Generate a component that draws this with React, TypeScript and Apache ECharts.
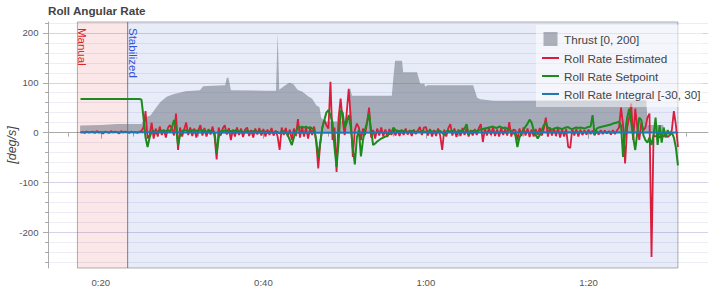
import React, { useEffect, useRef } from 'react';
import * as echarts from 'echarts';

// ---- data ----
const TITLE = 'Roll Angular Rate';
const Y_NAME = '[deg/s]';

// sampling grid of the rate signals (seconds)
const T0 = 17.5;
const DT = 0.25;

// Roll Rate Estimated [deg/s], one value per DT starting at T0
const ESTIMATED = [
  0, 1,
  -1, 2, 0, 1, // 18
  2, -1, 3, 0, // 19
  1, -2, 2, 1, // 20
  -1, 3, 0, 2, // 21
  1, -2, 3, 0, // 22
  2, 1, -1, 2, // 23
  0, 1, -1, 2, // 24
  3, 10, 43, -12, // 25
  -5, 20, -12, 8, // 26
  -8, 12, -5, 6, // 27
  -10, 9, 15, 7, // 28
  -6, 38, -35, 10, // 29
  -8, 6, 20, -5, // 30
  10, -7, 8, -10, // 31
  5, 15, -6, 9, // 32
  -8, 7, -4, 12, // 33
  -9, -54, 10, -6, // 34
  8, 15, -4, 9, // 35
  -15, 6, -8, 10, // 36
  -5, 8, -9, 6, // 37
  10, -7, 5, -10, // 38
  8, -4, 9, -6, // 39
  7, -8, 6, -5, // 40
  9, -6, 4, -8, // 41
  -35, 10, -5, 9, // 42
  -8, 6, -15, 8, // 43
  -6, 27, -10, 12, // 44
  -8, 10, -12, 9, // 45
  -5, 12, -20, -72, // 46
  -20, 10, 25, 15, // 47
  8, 102, -15, 10, // 48
  -79, 30, 68, 25, // 49
  -5, 40, 88, 30, // 50
  -49, 5, 18, 10, // 51
  -15, 8, -5, 20, // 52
  50, -10, 5, -12, // 53
  8, -6, 10, -8, // 54
  6, -9, 7, -5, // 55
  8, -6, 5, -7, // 56
  6, -5, 8, -4, // 57
  5, -7, 6, -3, // 58
  4, 11, -5, 10, // 59
  11, -6, 7, -8, // 60
  5, -7, 8, -6, // 61
  -35, 6, -8, 9, // 62
  17, -6, 8, -9, // 63
  6, -7, 9, -5, // 64
  8, -8, 5, -6, // 65
  7, -5, 9, 17, // 66
  -19, 8, -6, 9, // 67
  -5, 10, -7, 6, // 68
  -8, 9, -5, 7, // 69
  -6, 21, -8, 6, // 70
  5, -15, 8, -7, // 71
  10, -6, 8, -9, // 72
  6, -8, 7, -5, // 73
  9, -6, 8, 30, // 74
  -8, 10, -6, 8, // 75
  -7, 9, -10, 6, // 76
  -8, 7, -29, -31, // 77
  8, -6, 7, -8, // 78
  6, -5, 5, -4, // 79
  6, -3, 4, -5, // 80
  3, -4, 5, -3, // 81
  4, -2, 3, -4, // 82
  5, -3, 4, 10, // 83
  50, 15, -62, 10, // 84
  30, 58, -15, 48, // 85
  10, -15, 20, 5, // 86
  10, 30, 38, -250, // 87
  -5, -8, -6, -10, // 88
  -5, -8, -4, -9, // 89
  -5, 5, 43, 15, // 90
  -29, // 91
];

// Roll Rate Setpoint [deg/s], same sampling grid
const SETPOINT = [
  67.5, 67.5,
  67.5, 67.5, 67.5, 67.5, // 18
  67.5, 67.5, 67.5, 67.5, // 19
  67.5, 67.5, 67.5, 67.5, // 20
  67.5, 67.5, 67.5, 67.5, // 21
  67.5, 67.5, 67.5, 67.5, // 22
  67.5, 67.5, 67.5, 67.5, // 23
  67.5, 67.5, 67.5, 67.5, // 24
  66, 30, -10, -29, // 25
  -10, 2, 3, -2, // 26
  3, 1, 4, 2, // 27
  3, 5, 2, 10, // 28
  25, 10, -25, -5, // 29
  3, 5, 4, 2, // 30
  3, 5, 2, 4, // 31
  3, 5, 4, 3, // 32
  2, 4, 3, 1, // 33
  0, -42, -10, 2, // 34
  3, 4, 3, 2, // 35
  3, 2, 4, 3, // 36
  2, 3, 1, 2, // 37
  3, 2, 1, 3, // 38
  2, 1, 3, 2, // 39
  1, 2, 0, 2, // 40
  1, 0, 2, 1, // 41
  -2, 3, 2, 0, // 42
  -5, -15, -25, -10, // 43
  2, 11, 10, 12, // 44
  10, 12, 9, 11, // 45
  8, 5, -15, -49, // 46
  -20, 10, 25, 40, // 47
  45, 35, 20, -30, // 48
  -69, -20, 45, 40, // 49
  10, 20, 35, 10, // 50
  -30, -64, -10, 5, // 51
  -48, -15, 5, 20, // 52
  38, 5, -25, -22, // 53
  -18, -15, -12, -10, // 54
  -8, -6, -3, 0, // 55
  10, 5, 2, 3, // 56
  2, 3, 2, 1, // 57
  2, 3, 2, 1, // 58
  2, 1, 3, 2, // 59
  1, 2, 3, 2, // 60
  1, 2, 2, 3, // 61
  0, -5, 2, 3, // 62
  2, 3, 2, 1, // 63
  2, 3, 4, 8, // 64
  17, -5, 2, 3, // 65
  2, 3, 5, 6, // 66
  7, 8, 9, 10, // 67
  11, 12, 10, 9, // 68
  12, 11, 9, 10, // 69
  8, 6, 3, 0, // 70
  -5, -29, -10, 0, // 71
  5, 12, 18, 26, // 72
  20, 5, -5, -12, // 73
  -5, 5, 15, 20, // 74
  10, 8, 6, 8, // 75
  9, 10, 8, 7, // 76
  9, 10, 11, 8, // 77
  7, 9, 10, 9, // 78
  10, 9, 8, 10, // 79
  11, 12, 35, -5, // 80
  8, 10, 11, 12, // 81
  13, 14, 15, 16, // 82
  18, 19, 20, 22, // 83
  14, -49, 0, 30, // 84
  48, 20, -10, -35, // 85
  0, 30, 25, -5, // 86
  -15, -20, -10, -25, // 87
  -5, 30, -25, 15, // 88
  -20, 10, -10, 5, // 89
  -5, 0, -10, -30, // 90
  -66, // 91
];

// Thrust [0, 200] (time, value)
const THRUST_T = [17.45, 20, 22, 23.4, 25.0, 25.4, 26.1, 26.7, 27.3, 28.1, 28.9, 30.4, 32.2, 32.6, 33.8, 35.3, 35.5, 35.7, 36.0, 40.2, 41.55, 41.75, 41.95, 42.7, 43.2, 43.7, 44.2, 44.8, 45.5, 46.0, 46.5, 46.9, 47.1, 47.5, 50.5, 50.65, 50.9, 55.8, 56.0, 56.2, 57.05, 57.2, 58.9, 59.3, 59.8, 59.9, 60.2, 65.8, 66.3, 66.7, 68.3, 87.1, 87.3, 89.2, 89.25, 91.0];
const THRUST_V = [14, 15, 17, 17, 17, 30, 34, 48, 61, 72, 77, 83, 85, 93, 94, 95, 110, 110, 85, 84, 84, 199, 86, 95, 100, 97, 86, 82, 73, 68, 55, 51, 30, 22, 22, 90, 74, 74, 112, 144, 144, 121, 121, 98, 98, 92, 95, 95, 70, 67, 64, 65, 15, 15, 0, 0];

// Roll Rate Integral [-30, 30] (time, value)
const INTEGRAL_T = [17.5, 25, 30, 45, 60, 75, 91];
const INTEGRAL_V = [0.5, 0.5, 0, -0.5, 0, 0.5, 0];

// flight modes
const MODE_NAMES = ['Manual', 'Stabilized'];
const MODE_START = [17.12, 23.3];
const MODE_END = [23.3, 91.0];

// axes
const X_MIN = 13.5;
const X_MAX = 94.7;
const X_MAJOR = [20, 40, 60, 80];
const X_MINOR = [16, 24, 28, 32, 36, 44, 48, 52, 56, 64, 68, 72, 76, 84, 88, 92];
const Y_MIN = -272;
const Y_MAX = 222;
const Y_MAJOR = [-200, -100, 0, 100, 200];
const Y_MINOR = [-260, -240, -220, -180, -160, -140, -120, -80, -60, -40, -20, 20, 40, 60, 80, 120, 140, 160, 180, 220];

const SERIES_NAMES = ['Thrust [0, 200]', 'Roll Rate Estimated', 'Roll Rate Setpoint', 'Roll Rate Integral [-30, 30]'];

// ---- styles ----
const FONT = "'Liberation Sans', Arial, Helvetica, sans-serif";
const C_THRUST = 'rgba(100,105,120,0.5)';
const C_EST = '#d81e3c';
const C_SP = '#1c8a1c';
const C_INT = '#1f77b4';
const MODE_FILL = ['rgba(215,20,20,0.1)', 'rgba(25,65,195,0.1)'];
const MODE_TEXT = ['#d9262b', '#3352d6'];
const GRID = { left: 48, right: 5, top: 22, bottom: 21 };

const fmtTime = (v: number) => {
  const m = Math.floor(v / 60);
  const s = Math.round(v - m * 60);
  return `${m}:${String(s).padStart(2, '0')}`;
};

const pairs = (vals: number[]) => vals.map((v, i) => [T0 + i * DT, v]);
const zip = (ts: number[], vs: number[]) => ts.map((t, i) => [t, vs[i]]);

function buildOption(): any {
  const lineIcon = 'path://M0 0H17V2H0Z';
  return {
    animation: false,
    title: {
      text: TITLE,
      left: 48,
      top: 4,
      padding: 0,
      textStyle: { fontFamily: FONT, fontSize: 11.7, fontWeight: 'bold', color: '#444' },
    },
    legend: {
      orient: 'vertical',
      left: 536,
      top: 25,
      padding: [7, 2, 7, 6],
      itemGap: 6,
      itemWidth: 17,
      itemHeight: 14,
      symbolKeepAspect: true,
      selectedMode: false,
      backgroundColor: 'rgba(255,255,255,0.5)',
      itemStyle: { borderWidth: 0 },
      textStyle: { fontFamily: FONT, fontSize: 11.7, color: '#444' },
      data: [
        { name: SERIES_NAMES[0], icon: 'path://M0 0H14V14H0Z', itemStyle: { color: C_THRUST } },
        { name: SERIES_NAMES[1], icon: lineIcon, itemStyle: { color: C_EST } },
        { name: SERIES_NAMES[2], icon: lineIcon, itemStyle: { color: C_SP } },
        { name: SERIES_NAMES[3], icon: lineIcon, itemStyle: { color: C_INT } },
      ],
    },
    grid: { ...GRID, containLabel: false, outerBoundsMode: 'none' },
    xAxis: [
      {
        type: 'value',
        min: X_MIN,
        max: X_MAX,
        position: 'bottom',
        axisLine: { show: true, lineStyle: { color: '#aaa', width: 1 } },
        axisTick: { show: true, customValues: X_MAJOR, length: 6, lineStyle: { color: '#aaa' } },
        axisLabel: {
          customValues: X_MAJOR,
          formatter: (v: number) => fmtTime(v),
          fontFamily: FONT,
          fontSize: 9.6,
          color: '#555',
          margin: 9,
        },
        splitLine: { show: false },
      },
      {
        type: 'value',
        min: X_MIN,
        max: X_MAX,
        position: 'bottom',
        axisLine: { show: false },
        axisTick: { show: true, customValues: X_MINOR, length: 4, lineStyle: { color: '#aaa' } },
        axisLabel: { show: false },
        splitLine: { show: false },
      },
    ],
    yAxis: [
      {
        type: 'value',
        min: Y_MIN,
        max: Y_MAX,
        position: 'left',
        name: Y_NAME,
        nameLocation: 'middle',
        nameGap: 30,
        nameMoveOverlap: false,
        nameTextStyle: { fontFamily: FONT, fontSize: 12.5, fontStyle: 'italic', color: '#444' },
        axisLine: { show: true, lineStyle: { color: '#aaa', width: 1 } },
        axisTick: { show: true, customValues: Y_MAJOR, length: 5, lineStyle: { color: '#aaa' } },
        axisLabel: { customValues: Y_MAJOR, fontFamily: FONT, fontSize: 9.6, color: '#555', margin: 9.5 },
        splitLine: { show: true, lineStyle: { color: 'rgba(140,140,200,0.38)', width: 1 } },
      },
      {
        type: 'value',
        min: Y_MIN,
        max: Y_MAX,
        position: 'left',
        axisLine: { show: false },
        axisTick: { show: true, customValues: Y_MINOR, length: 3, lineStyle: { color: '#aaa' } },
        axisLabel: { show: false },
        splitLine: { show: true, lineStyle: { color: 'rgba(140,140,190,0.16)', width: 1 } },
      },
    ],
    series: [
      {
        name: SERIES_NAMES[0],
        type: 'line',
        data: zip(THRUST_T, THRUST_V),
        showSymbol: false,
        symbol: 'none',
        color: C_THRUST,
        lineStyle: { width: 0, opacity: 0 },
        areaStyle: { color: C_THRUST, opacity: 1 },
        z: 2,
        markArea: {
          silent: true,
          label: { show: false },
          data: MODE_NAMES.map((_, i) => [
            {
              xAxis: MODE_START[i],
              itemStyle: { color: MODE_FILL[i], borderColor: 'rgba(100,100,100,0.5)', borderWidth: 1 },
            },
            { xAxis: MODE_END[i] },
          ]),
        },
      },
      {
        name: SERIES_NAMES[1],
        type: 'line',
        data: pairs(ESTIMATED),
        showSymbol: false,
        symbol: 'none',
        color: C_EST,
        lineStyle: { width: 1.8, color: C_EST },
        z: 3,
      },
      {
        name: SERIES_NAMES[2],
        type: 'line',
        data: pairs(SETPOINT),
        showSymbol: false,
        symbol: 'none',
        color: C_SP,
        lineStyle: { width: 2, color: C_SP },
        z: 4,
      },
      {
        name: SERIES_NAMES[3],
        type: 'line',
        data: zip(INTEGRAL_T, INTEGRAL_V),
        showSymbol: false,
        symbol: 'none',
        color: C_INT,
        lineStyle: { width: 2, color: C_INT },
        z: 5,
      },
    ],
  };
}

export default function App() {
  const ref = useRef<HTMLDivElement>(null);
  useEffect(() => {
    document.body.style.margin = '0';
    const el = ref.current;
    if (!el) return;
    const chart = echarts.init(el, null, { renderer: 'svg' });
    chart.setOption(buildOption());
    const graphics = MODE_NAMES.map((name, i) => {
      const p = chart.convertToPixel({ seriesIndex: 1 }, [MODE_START[i], 0]) as number[];
      return {
        type: 'text',
        x: p[0] - 1,
        y: GRID.top + 6,
        rotation: -Math.PI / 2,
        silent: true,
        z: 10,
        style: {
          text: name,
          fill: MODE_TEXT[i],
          fontFamily: FONT,
          fontSize: 11.5,
          textAlign: 'left',
          textVerticalAlign: 'bottom',
        },
      };
    });
    chart.setOption({ graphic: graphics });
    return () => chart.dispose();
  }, []);
  return <div ref={ref} style={{ width: 713, height: 289 }} />;
}
